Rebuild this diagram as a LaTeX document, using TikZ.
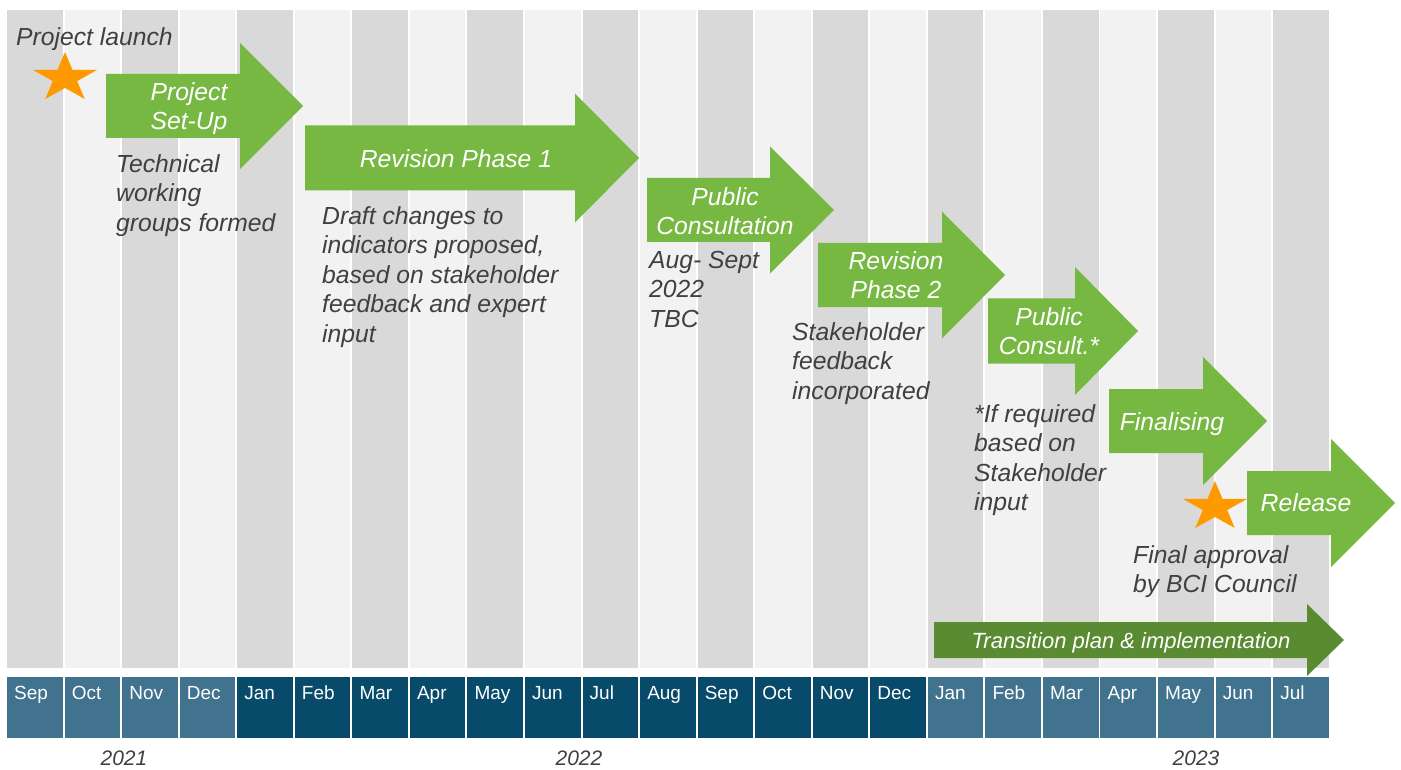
\documentclass[tikz,border=0pt]{standalone}
\usepackage{fontspec}
\setmainfont{Liberation Sans}
\definecolor{stripeA}{HTML}{D9D9D9}
\definecolor{stripeB}{HTML}{F2F2F2}
\definecolor{monA}{HTML}{41738F}
\definecolor{monB}{HTML}{084A6A}
\definecolor{arrowgreen}{HTML}{77B843}
\definecolor{darkgreen}{HTML}{5A8A32}
\definecolor{starorange}{HTML}{FF9900}
\definecolor{txtgray}{HTML}{404040}
\newcommand{\st}{\rule{0pt}{20pt}}
\newcommand{\phasearrow}[7]{%
  \fill[#7] (#1,#4-#5) -- (#2,#4-#5) -- (#2,#4-#6) -- (#3,#4) -- (#2,#4+#6) -- (#2,#4+#5) -- (#1,#4+#5) -- cycle;}
\newcommand{\orangestar}[2]{%
  \fill[starorange] (#1,#2-26) \foreach \k in {1,...,9}{ -- ({#1+33.6*cos(90+36*\k)*(mod(\k,2)==0 ? 1 : 0.382)},{#2-26*sin(90+36*\k)*(mod(\k,2)==0 ? 1 : 0.382)}) } -- cycle;}
\tikzset{
  lbl/.style={inner sep=0pt, text=txtgray, font=\fontsize{24.7}{29.5}\selectfont\itshape, align=left, anchor=north west},
  albl/.style={inner sep=0pt, text=white, font=\fontsize{24.7}{29.5}\selectfont\itshape, align=center, anchor=north},
  monthlbl/.style={inner sep=0pt, text=white, font=\fontsize{19}{22}\selectfont, anchor=base west},
  yearlbl/.style={inner sep=0pt, text=txtgray, font=\fontsize{21}{24}\selectfont\itshape, anchor=base},
}
\begin{document}
\begin{tikzpicture}[x=1pt,y=-1pt]
\useasboundingbox (0,0) rectangle (1401,770);
% stripes and month boxes
\foreach \i/\m in {0/Sep,1/Oct,2/Nov,3/Dec,4/Jan,5/Feb,6/Mar,7/Apr,8/May,9/Jun,10/Jul,11/Aug,12/Sep,13/Oct,14/Nov,15/Dec,16/Jan,17/Feb,18/Mar,19/Apr,20/May,21/Jun,22/Jul}{
  \pgfmathsetmacro\xl{7+57.55*\i}
  \pgfmathtruncatemacro\odd{mod(\i,2)}
  \ifnum\odd=0 \def\sc{stripeA}\else\def\sc{stripeB}\fi
  \fill[\sc] (\xl,10) rectangle ++(55.6,658);
  \ifnum\i<4 \def\mc{monA}\else\ifnum\i>15 \def\mc{monA}\else\def\mc{monB}\fi\fi
  \fill[\mc] (\xl,677) rectangle ++(55.6,61);
  \node[monthlbl] (m\i) at (\xl+7,699) {\m};
}
% phase arrows
\phasearrow{106}{240}{303}{106}{32}{63}{arrowgreen}
\phasearrow{305}{575}{639}{158}{32.5}{64.5}{arrowgreen}
\phasearrow{647}{770}{834}{210}{32}{63.5}{arrowgreen}
\phasearrow{818}{942}{1005}{275}{32}{63.5}{arrowgreen}
\phasearrow{988}{1075}{1138}{331}{32.5}{64}{arrowgreen}
\phasearrow{1109}{1203}{1267}{421}{32}{64}{arrowgreen}
\phasearrow{1247}{1331}{1395}{503}{32}{64}{arrowgreen}
\phasearrow{934}{1307}{1344}{640}{18}{36}{darkgreen}
% stars
\orangestar{65}{78}
\orangestar{1215}{507}
% arrow labels
\node[albl] (setup) at (189,100-20) {\st Project\\Set-Up};
\node[albl] (rev1) at (456,167-20) {\st Revision Phase 1};
\node[albl] (pc) at (725,205-20) {\st Public\\Consultation};
\node[albl] (rev2) at (896,269-20) {\st Revision\\Phase 2};
\node[albl] (pc2) at (1049,325-20) {\st Public\\Consult.*};
\node[albl] (final) at (1172,430-20) {\st Finalising};
\node[albl] (release) at (1306,511-20) {\st Release};
\node[inner sep=0pt, text=white, font=\fontsize{22}{26}\selectfont\itshape, anchor=base] (trans) at (1131,648) {Transition plan \& implementation};
% notes
\node[lbl] (launch) at (16,45-20) {\st Project launch};
\node[lbl] (tech) at (116,172-20) {\st Technical\\working\\groups formed};
\node[lbl] (draft) at (322,224-20) {\st Draft changes to\\indicators proposed,\\based on stakeholder\\feedback and expert\\input};
\node[lbl] (aug) at (649,268-20) {\st Aug- Sept\\2022\\TBC};
\node[lbl] (stake) at (792,340-20) {\st Stakeholder\\feedback\\incorporated};
\node[lbl] (ifreq) at (974,422-20) {\st *If required\\based on\\Stakeholder\\input};
\node[lbl] (approval) at (1133,563-20) {\st Final approval\\by BCI Council};
% years
\node[yearlbl] (y2021) at (124,765) {2021};
\node[yearlbl] (y2022) at (579,765) {2022};
\node[yearlbl] (y2023) at (1196,765) {2023};
\end{tikzpicture}
\end{document}
